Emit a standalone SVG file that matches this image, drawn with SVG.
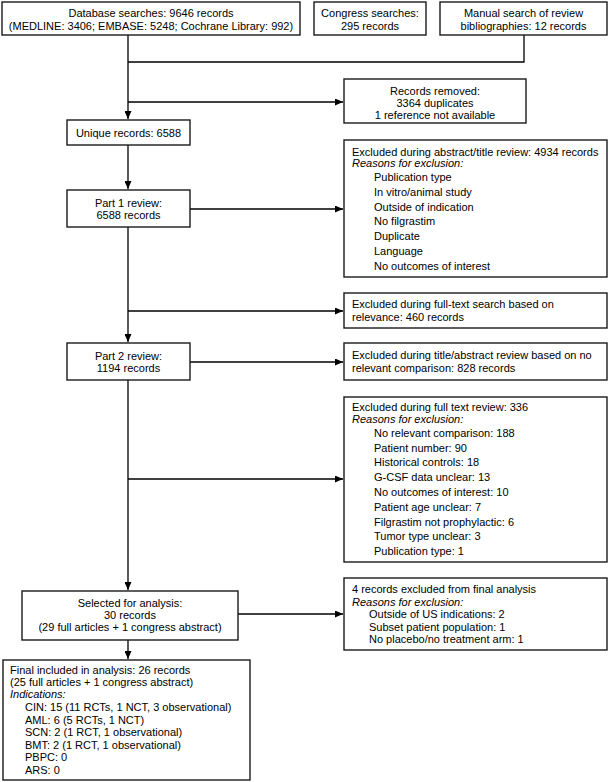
<svg xmlns="http://www.w3.org/2000/svg" width="610" height="782" viewBox="0 0 610 782">
<defs>
<marker id="ah" markerWidth="8" markerHeight="7" refX="8" refY="3.5" orient="auto" markerUnits="userSpaceOnUse">
<path d="M0,0 L8,3.5 L0,7 z" fill="#000"/>
</marker>
<style>
.box{fill:#fff;stroke:#1a1a1a;stroke-width:1.4}
.t{font-family:"Liberation Sans",Arial,sans-serif;font-size:11px;fill:#000}
.c{text-anchor:middle}
.i{font-style:italic}
.ln{fill:none;stroke:#000;stroke-width:1.3}
</style>
</defs>
<rect width="610" height="782" fill="#fff"/>
<g id="connectors">
<path class="ln" d="M128,35 V119" marker-end="url(#ah)"/>
<path class="ln" d="M524,35 V62 H128"/>
<path class="ln" d="M128,102 H343" marker-end="url(#ah)"/>
<path class="ln" d="M128,145 V189" marker-end="url(#ah)"/>
<path class="ln" d="M190,209 H343" marker-end="url(#ah)"/>
<path class="ln" d="M128,227 V342" marker-end="url(#ah)"/>
<path class="ln" d="M128,311 H343" marker-end="url(#ah)"/>
<path class="ln" d="M190,362 H343" marker-end="url(#ah)"/>
<path class="ln" d="M128,380 V590" marker-end="url(#ah)"/>
<path class="ln" d="M128,479 H343" marker-end="url(#ah)"/>
<path class="ln" d="M238,614 H343" marker-end="url(#ah)"/>
<path class="ln" d="M128,640 V659" marker-end="url(#ah)"/>
</g>
<g id="db">
<rect class="box" x="2" y="2" width="298" height="33"/>
<text class="t c" x="151" y="17">Database searches: 9646 records</text>
<text class="t c" x="151" y="30">(MEDLINE: 3406; EMBASE: 5248; Cochrane Library: 992)</text>
</g>
<g id="congress">
<rect class="box" x="314" y="2" width="112" height="33"/>
<text class="t c" x="370" y="17">Congress searches:</text>
<text class="t c" x="370" y="30">295 records</text>
</g>
<g id="manual">
<rect class="box" x="440" y="2" width="167" height="33"/>
<text class="t c" x="523.5" y="17">Manual search of review</text>
<text class="t c" x="523.5" y="30">bibliographies: 12 records</text>
</g>
<g id="removed">
<rect class="box" x="344" y="79" width="182" height="44"/>
<text class="t c" x="435" y="95">Records removed:</text>
<text class="t c" x="435" y="107">3364 duplicates</text>
<text class="t c" x="435" y="119">1 reference not available</text>
</g>
<g id="unique">
<rect class="box" x="67" y="120" width="123" height="25"/>
<text class="t c" x="128.5" y="137">Unique records: 6588</text>
</g>
<g id="part1">
<rect class="box" x="67" y="190" width="123" height="37"/>
<text class="t c" x="128.5" y="207">Part 1 review:</text>
<text class="t c" x="128.5" y="219">6588 records</text>
</g>
<g id="excl-abstract">
<rect class="box" x="344" y="140" width="263" height="137"/>
<text class="t" x="352" y="156">Excluded during abstract/title review: 4934 records</text>
<text class="t i" x="352" y="167">Reasons for exclusion:</text>
<text class="t" x="374" y="181">Publication type</text>
<text class="t" x="374" y="196">In vitro/animal study</text>
<text class="t" x="374" y="211">Outside of indication</text>
<text class="t" x="374" y="225">No filgrastim</text>
<text class="t" x="374" y="240">Duplicate</text>
<text class="t" x="374" y="255">Language</text>
<text class="t" x="374" y="270">No outcomes of interest</text>
</g>
<g id="excl-fulltext-search">
<rect class="box" x="344" y="293" width="263" height="35"/>
<text class="t" x="352" y="308">Excluded during full-text search based on</text>
<text class="t" x="352" y="321">relevance: 460 records</text>
</g>
<g id="part2">
<rect class="box" x="67" y="343" width="123" height="37"/>
<text class="t c" x="128.5" y="360">Part 2 review:</text>
<text class="t c" x="128.5" y="372">1194 records</text>
</g>
<g id="excl-title">
<rect class="box" x="344" y="343" width="263" height="37"/>
<text class="t" x="352" y="359">Excluded during title/abstract review based on no</text>
<text class="t" x="352" y="372">relevant comparison: 828 records</text>
</g>
<g id="excl-fulltext-review">
<rect class="box" x="344" y="397" width="263" height="165"/>
<text class="t" x="352" y="411">Excluded during full text review: 336</text>
<text class="t i" x="352" y="423">Reasons for exclusion:</text>
<text class="t" x="374" y="437">No relevant comparison: 188</text>
<text class="t" x="374" y="452">Patient number: 90</text>
<text class="t" x="374" y="466">Historical controls: 18</text>
<text class="t" x="374" y="481">G-CSF data unclear: 13</text>
<text class="t" x="374" y="496">No outcomes of interest: 10</text>
<text class="t" x="374" y="511">Patient age unclear: 7</text>
<text class="t" x="374" y="526">Filgrastim not prophylactic: 6</text>
<text class="t" x="374" y="540">Tumor type unclear: 3</text>
<text class="t" x="374" y="555">Publication type: 1</text>
</g>
<g id="selected">
<rect class="box" x="22" y="591" width="216" height="49"/>
<text class="t c" x="130" y="607">Selected for analysis:</text>
<text class="t c" x="130" y="619">30 records</text>
<text class="t c" x="130" y="631">(29 full articles + 1 congress abstract)</text>
</g>
<g id="excl-final">
<rect class="box" x="344" y="578" width="263" height="72"/>
<text class="t" x="352" y="593">4 records excluded from final analysis</text>
<text class="t i" x="352" y="606">Reasons for exclusion:</text>
<text class="t" x="369" y="618">Outside of US indications: 2</text>
<text class="t" x="369" y="631">Subset patient population: 1</text>
<text class="t" x="369" y="643">No placebo/no treatment arm: 1</text>
</g>
<g id="final">
<rect class="box" x="3" y="660" width="247" height="120"/>
<text class="t" x="10" y="674">Final included in analysis: 26 records</text>
<text class="t" x="10" y="686">(25 full articles + 1 congress abstract)</text>
<text class="t i" x="10" y="698">Indications:</text>
<text class="t" x="25" y="711">CIN: 15 (11 RCTs, 1 NCT, 3 observational)</text>
<text class="t" x="25" y="724">AML: 6 (5 RCTs, 1 NCT)</text>
<text class="t" x="25" y="736">SCN: 2 (1 RCT, 1 observational)</text>
<text class="t" x="25" y="749">BMT: 2 (1 RCT, 1 observational)</text>
<text class="t" x="25" y="761">PBPC: 0</text>
<text class="t" x="25" y="774">ARS: 0</text>
</g>
</svg>
